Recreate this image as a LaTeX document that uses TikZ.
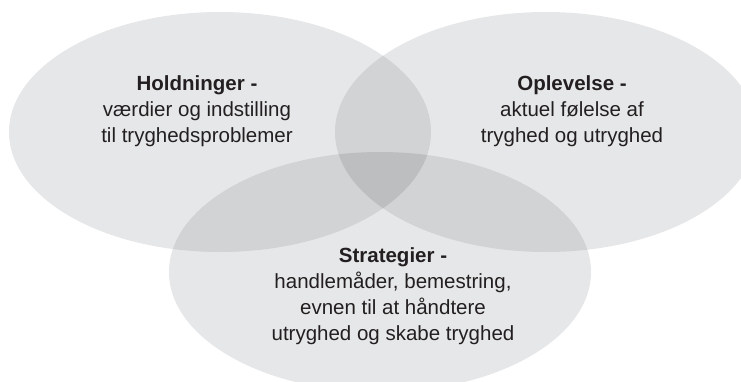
\documentclass[tikz,border=0pt]{standalone}
\usepackage{fontspec}
\setmainfont{Liberation Sans}
\usetikzlibrary{positioning}

\definecolor{onegrey}{HTML}{E6E7E8}
\definecolor{twogrey}{HTML}{D2D3D5}
\definecolor{threegrey}{HTML}{BDBEC0}
\definecolor{inkgrey}{HTML}{231F20}

\begin{document}
\begin{tikzpicture}[
            x=1pt, y=-1pt,
            blob/.style={x radius=211pt, y radius=120pt},
            venntext/.style={align=center, text=inkgrey, inner sep=0pt, font=\fontsize{20.5}{26}\selectfont}
        ]
        \useasboundingbox (0,0) rectangle (741,382);

        % Centres of the three sets
        \coordinate (hold) at (220,132);
        \coordinate (oplev) at (546,132);
        \coordinate (strat) at (380,272);

        % Single areas
        \fill[onegrey] (hold) ellipse [blob];
        \fill[onegrey] (oplev) ellipse [blob];
        \fill[onegrey] (strat) ellipse [blob];

        % Pairwise overlaps
        \begin{scope}
            \clip (hold) ellipse [blob];
            \fill[twogrey] (oplev) ellipse [blob];
            \fill[twogrey] (strat) ellipse [blob];
        \end{scope}
        \begin{scope}
            \clip (oplev) ellipse [blob];
            \fill[twogrey] (strat) ellipse [blob];
        \end{scope}

        % Centre overlap
        \begin{scope}
            \clip (hold) ellipse [blob];
            \clip (oplev) ellipse [blob];
            \fill[threegrey] (strat) ellipse [blob];
        \end{scope}

        % Texts
        \node[venntext] (holdtxt) at (197,111) {{\bfseries Holdninger -}\\værdier og indstilling\\til tryghedsproblemer};
        \node[venntext] (oplevtxt) at (572,111) {{\bfseries Oplevelse -}\\aktuel følelse af\\tryghed og utryghed};
        \node[venntext] (strattxt) at (393,296) {{\bfseries Strategier -}\\handlemåder, bemestring,\\evnen til at håndtere\\utryghed og skabe tryghed};

\end{tikzpicture}
\end{document}
